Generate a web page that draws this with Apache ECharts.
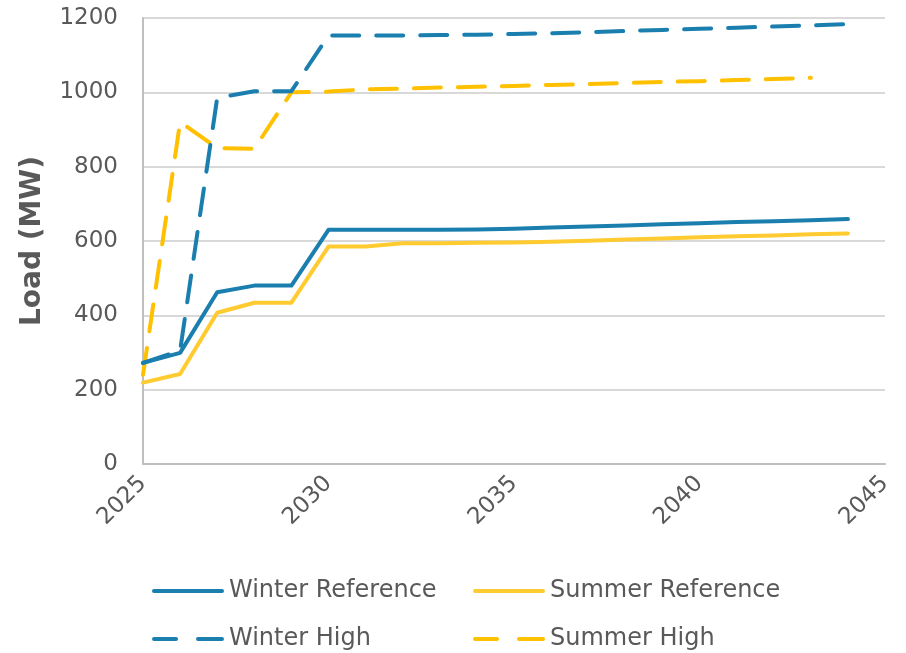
<!DOCTYPE html>
<html>
<head>
<meta charset="utf-8">
<script src="https://cdn.jsdelivr.net/npm/echarts@6/dist/echarts.min.js"></script>
<style>html,body{margin:0;padding:0;background:#fff}#c{width:906px;height:653px}</style>
</head>
<body>
<div id="c"></div>
<script>
const years = [2025,2026,2027,2028,2029,2030,2031,2032,2033,2034,2035,2036,2037,2038,2039,2040,2041,2042,2043,2044];
const winterReference = [272,299,462,480,480,630,630,630,630,631,633,636,639,642,645,648,651,653,656,659];
const summerReference = [219,242,407,434,434,585,585,594,594,595,596,598,601,604,607,610,613,615,618,620];
const winterHigh = [272,305,985,1003,1003,1153,1153,1153,1154,1155,1157,1159,1162,1165,1168,1171,1174,1177,1180,1184];
const summerHigh = [240,920,850,848,1000,1002,1008,1010,1013,1015,1017,1020,1022,1025,1028,1030,1033,1036,1039];
const yTicks = [0,200,400,600,800,1000,1200];
const xTicks = [2025,2030,2035,2040,2045];
const seriesNames = ['Winter Reference','Summer Reference','Winter High','Summer High'];

const pair = (vals) => vals.map((v, i) => [years[i], v]);
const FONT = 'DejaVu Sans';
const TXT = '#595959';
const BLUE = '#1a7fae';
const YEL = '#ffcb30';
const YEL2 = '#ffc000';
const SOLID_ICON = 'path://M2,0H70A2,2 0 0 1 70,4H2A2,2 0 0 1 2,0Z';
const DASH_ICON = 'path://M2,0H24A2,2 0 0 1 24,4H2A2,2 0 0 1 2,0Z M46,0H70A2,2 0 0 1 70,4H46A2,2 0 0 1 46,0Z';

const chart = echarts.init(document.getElementById('c'), null, {renderer:'canvas'});
const legendBase = {
  itemWidth: 72, itemHeight: 4, itemGap: 0, symbolKeepAspect: false,
  textStyle: {fontFamily: FONT, fontSize: 24, color: TXT, padding:[0,0,0,0]},
  selectedMode: false
};
chart.setOption({
  animation: false,
  backgroundColor: '#fff',
  grid: {left: 143, right: 21, top: 18, bottom: 189, containLabel: false},
  xAxis: {
    type: 'value', min: xTicks[0], max: xTicks[xTicks.length-1], interval: 5,
    axisLine: {show: true, lineStyle: {color: '#bfbfbf', width: 2}},
    axisTick: {show: false},
    splitLine: {show: false},
    axisLabel: {rotate: 45, fontFamily: FONT, fontSize: 23, color: TXT, margin: 16,
      formatter: v => String(v)}
  },
  yAxis: {
    type: 'value', min: yTicks[0], max: yTicks[yTicks.length-1], interval: 200,
    name: 'Load (MW)', nameLocation: 'middle', nameGap: 96, nameRotate: 90,
    nameTextStyle: {fontFamily: FONT, fontSize: 28, fontWeight: 'bold', color: TXT},
    axisLine: {show: true, lineStyle: {color: '#bfbfbf', width: 2}},
    axisTick: {show: false},
    splitLine: {show: true, lineStyle: {color: '#d9d9d9', width: 2}},
    axisLabel: {fontFamily: FONT, fontSize: 23, color: TXT, margin: 25, formatter: v => String(v)}
  },
  legend: [
    Object.assign({}, legendBase, {data: [{name: seriesNames[0], icon: SOLID_ICON}], left: 147, top: 574}),
    Object.assign({}, legendBase, {data: [{name: seriesNames[1], icon: SOLID_ICON}], left: 468, top: 574}),
    Object.assign({}, legendBase, {data: [{name: seriesNames[2], icon: DASH_ICON}], left: 147, top: 622}),
    Object.assign({}, legendBase, {data: [{name: seriesNames[3], icon: DASH_ICON}], left: 468, top: 622})
  ],
  series: [
    {name: seriesNames[0], type: 'line', data: pair(winterReference), symbol: 'none',
     lineStyle: {color: BLUE, width: 4, cap: 'round', join: 'round'}, itemStyle: {color: BLUE}, z: 3},
    {name: seriesNames[1], type: 'line', data: pair(summerReference), symbol: 'none',
     lineStyle: {color: YEL, width: 4, cap: 'round', join: 'round'}, itemStyle: {color: YEL}, z: 2},
    {name: seriesNames[2], type: 'line', data: pair(winterHigh), symbol: 'none',
     lineStyle: {color: BLUE, width: 4, type: [27, 17], cap: 'round', join: 'round'}, itemStyle: {color: BLUE}, z: 3},
    {name: seriesNames[3], type: 'line', data: pair(summerHigh), symbol: 'none',
     lineStyle: {color: YEL2, width: 4, type: [27, 17], cap: 'round', join: 'round'}, itemStyle: {color: YEL2}, z: 2}
  ]
});
</script>
</body>
</html>
